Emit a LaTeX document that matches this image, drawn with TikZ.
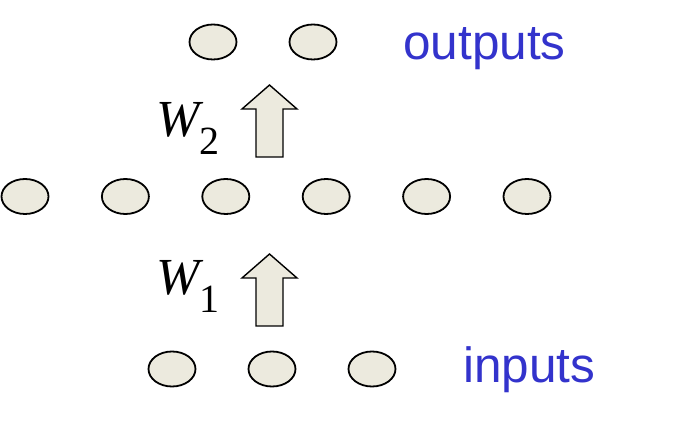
\documentclass[tikz,border=0pt]{standalone}
\usepackage{fontspec}
\setmainfont{Liberation Serif}
\newfontfamily\labelfont{Liberation Sans}
\definecolor{unitfill}{RGB}{236,234,222}
\definecolor{labelblue}{RGB}{51,51,204}
\newcommand{\weightname}[1]{{\itshape W}\raisebox{-18pt}{\fontsize{40}{40}\selectfont #1}}
\tikzset{
  unit/.style = {ellipse, draw, fill=unitfill, line width=1.8pt,
    minimum width=47pt, minimum height=35pt, inner sep=0pt},
  blockarrow/.style = {draw, fill=unitfill, line width=1.4pt, line join=miter},
  layerlabel/.style = {text=labelblue, font=\labelfont\fontsize{49.5}{49.5}\selectfont,
    inner sep=0pt, anchor=base west},
  weightlabel/.style = {font=\fontsize{52}{52}\selectfont, inner sep=0pt, anchor=base west}
}
\usetikzlibrary{shapes.geometric}
\begin{document}
\begin{tikzpicture}[x = 1pt, y = -1pt]
  \useasboundingbox (0, 0) rectangle (686, 427);
  % Units
  \node[unit] (out1) at (213, 42) {};
  \node[unit] (out2) at (313, 42) {};
  \foreach \i in {1, ..., 6}
    \node[unit] (hid\i) at ({25 + 100.4*(\i - 1)}, 196.5) {};
  \foreach \i in {1, 2, 3}
    \node[unit] (in\i) at ({172 + 100*(\i - 1)}, 369) {};

  % Arrows
  \draw[blockarrow] (256, 157) -- ++(0, -48) -- ++(-14, 0) -- ++(27.5, -24)
    -- ++(27.5, 24) -- ++(-14, 0) -- ++(0, 48) -- cycle;
  \draw[blockarrow] (256, 326) -- ++(0, -48) -- ++(-14, 0) -- ++(27.5, -24)
    -- ++(27.5, 24) -- ++(-14, 0) -- ++(0, 48) -- cycle;

  % Labels
  \node[weightlabel] (w2) at (156, 137) {\weightname{2}};
  \node[weightlabel] (w1) at (156, 295) {\weightname{1}};
  \node[layerlabel] (outlabel) at (403, 60) {outputs};
  \node[layerlabel] (inlabel) at (463, 383) {inputs};
\end{tikzpicture}
\end{document}
